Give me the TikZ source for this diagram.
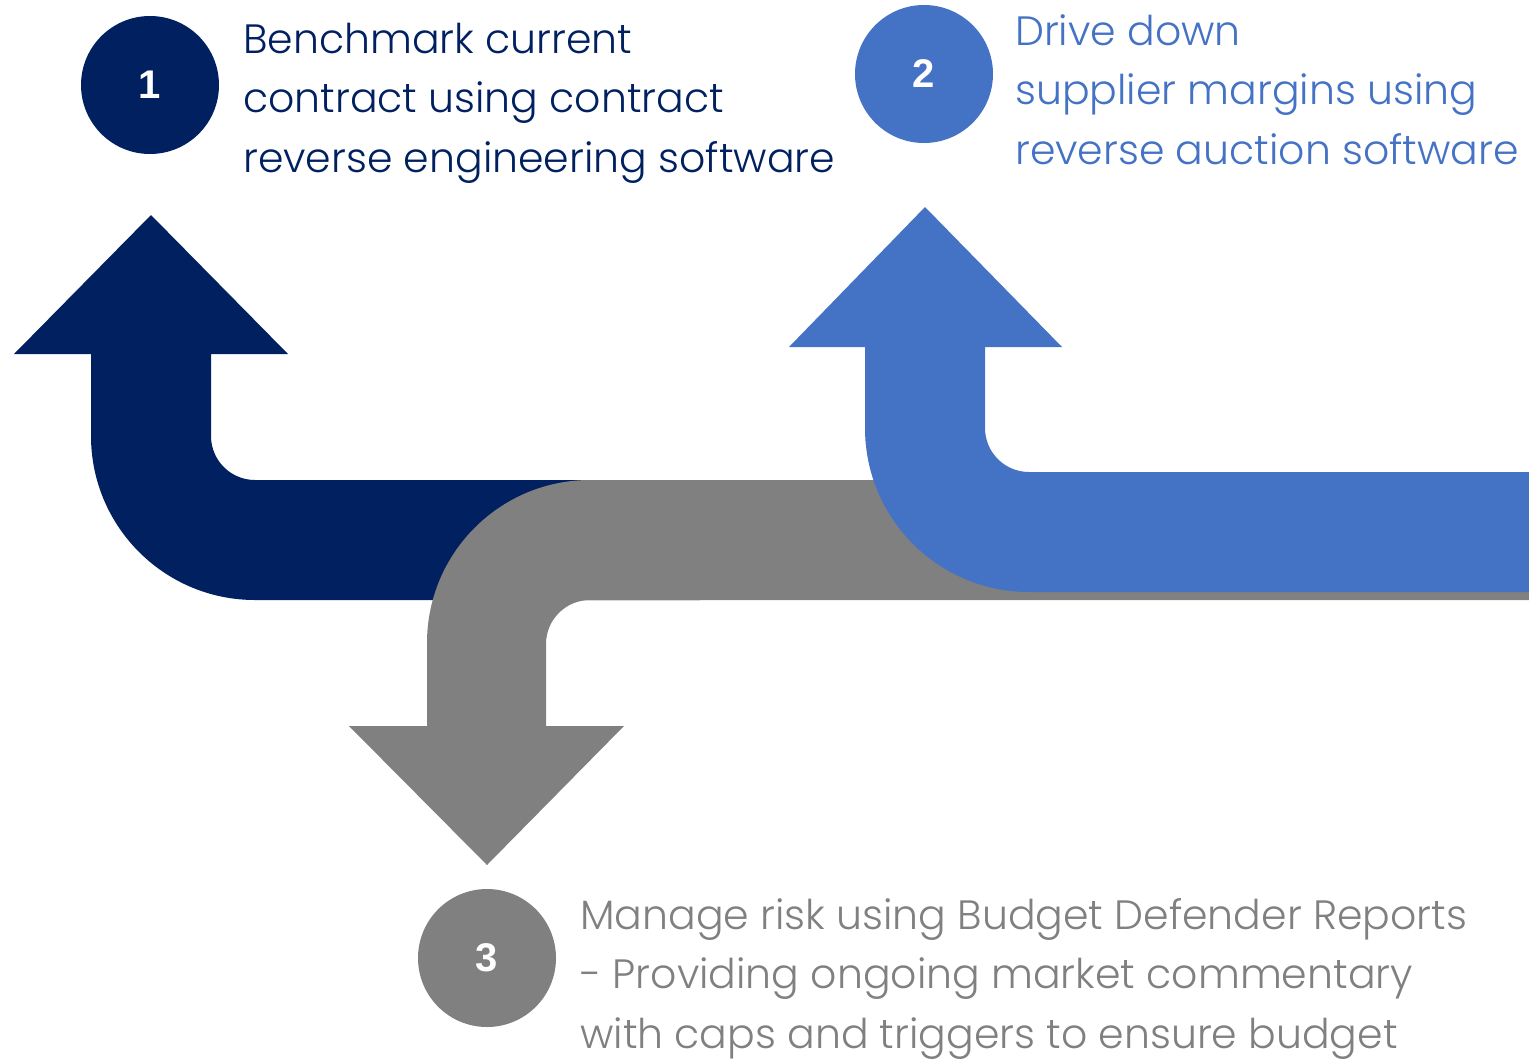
\documentclass[tikz,border=0pt]{standalone}
\usepackage{fontspec}
\setmainfont{Poppins Light}
\newfontfamily\numfont{Liberation Sans}
\usepackage{xcolor}
\usetikzlibrary{positioning}
\definecolor{stepNavy}{HTML}{002060}
\definecolor{stepBlue}{HTML}{4472C4}
\definecolor{stepGrey}{HTML}{808080}
\tikzstyle{badge} = [circle, minimum size=138pt, inner sep=0pt, text=white, font=\numfont\bfseries\fontsize{40}{40}\selectfont]
\tikzstyle{caption} = [anchor=base west, inner sep=0pt, align=left, font=\fontsize{41}{59.5}\selectfont]

\begin{document}
\begin{tikzpicture}[x=1pt, y=1pt, yscale=-1]
\useasboundingbox (0,0) rectangle (1529,1058);

% arrow 1: up on the left
\fill[stepNavy] (151,215) -- (288,354) -- (211,354) -- (211,436)
  arc[start angle=180, end angle=90, radius=44] -- (700,480) -- (700,600) -- (255,600)
  arc[start angle=90, end angle=180, radius=164] -- (91,354) -- (14,354) -- cycle;

% arrow 3: down in the middle
\fill[stepGrey] (1529,480) -- (590,480)
  arc[start angle=270, end angle=180, radius=163] -- (427,726) -- (349,726) -- (487,865)
  -- (624,726) -- (546,726) -- (546,644)
  arc[start angle=180, end angle=270, radius=44] -- (1529,600) -- cycle;

% arrow 2: up on the right
\fill[stepBlue] (925,207) -- (1062,347) -- (985,347) -- (985,428)
  arc[start angle=180, end angle=90, radius=44] -- (1529,472) -- (1529,592) -- (1029,592)
  arc[start angle=90, end angle=180, radius=164] -- (865,347) -- (789,347) -- cycle;

% numbers
\node (one) [badge, fill=stepNavy] at (150,85) {1};
\node (two) [badge, fill=stepBlue] at (924,74) {2};
\node (three) [badge, fill=stepGrey] at (487,958) {3};

% texts (anchored on the last line)
\node (benchmark) [caption, text=stepNavy] at (243,172) {Benchmark current\\contract using contract\\reverse engineering software};
\node (drive) [caption, text=stepBlue] at (1015,164) {Drive down\\supplier margins using\\reverse auction software};
\node (manage) [caption, text=stepGrey] at (580,1048) {Manage risk using Budget Defender Reports\\- Providing ongoing market commentary\\with caps and triggers to ensure budget};

\end{tikzpicture}
\end{document}
